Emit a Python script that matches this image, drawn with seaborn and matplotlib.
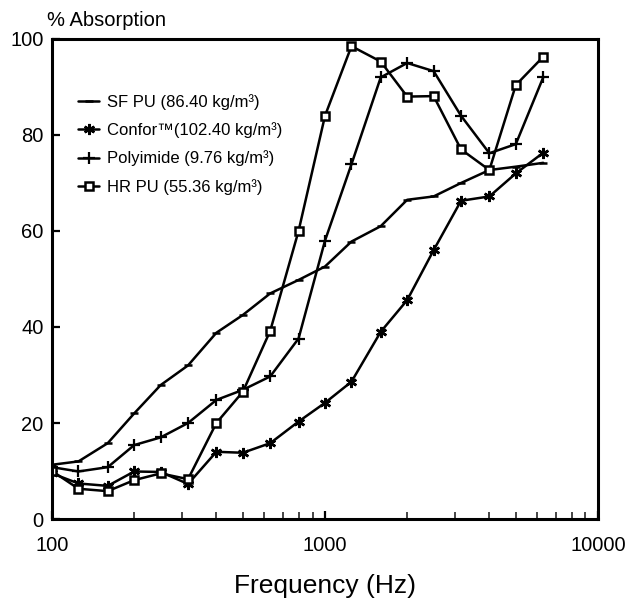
import matplotlib
matplotlib.use("Agg")
import matplotlib.pyplot as plt
import matplotlib.ticker as mticker
import seaborn as sns

# one-third octave centre frequencies (Hz)
freqs = [100, 125, 160, 200, 250, 315, 400, 500, 630, 800, 1000,
         1250, 1600, 2000, 2500, 3150, 4000, 5000, 6300]

sf_pu = [11.3, 12.0, 15.8, 22.0, 27.9, 32.0, 38.8, 42.5, 47.0, 49.8, 52.6,
         57.8, 61.0, 66.5, 67.2, 70.0, 72.7, 73.4, 74.2]
confor = [9.5, 7.4, 6.9, 9.9, 9.8, 7.3, 14.0, 13.8, 15.8, 20.3, 24.2,
          28.6, 39.0, 45.6, 56.0, 66.3, 67.2, 72.0, 76.3]
polyimide = [10.8, 9.9, 10.8, 15.4, 17.0, 20.0, 24.8, 26.9, 29.7, 37.6, 58.0,
             73.9, 92.0, 95.0, 93.3, 84.0, 76.2, 78.1, 92.0]
hr_pu = [10.0, 6.3, 5.8, 8.1, 9.5, 8.3, 20.0, 26.5, 39.2, 60.0, 84.0,
         98.5, 95.3, 88.0, 88.1, 77.0, 72.7, 90.4, 96.3]

labels = ["SF PU (86.40 kg/m\u00b3)",
          "Confor\u2122(102.40 kg/m\u00b3)",
          "Polyimide (9.76 kg/m\u00b3)",
          "HR PU (55.36 kg/m\u00b3)"]

sns.set_style("ticks")
plt.rcParams['font.family'] = ['Liberation Sans', 'DejaVu Sans']
plt.rcParams['text.color'] = 'black'
plt.rcParams['axes.labelcolor'] = 'black'

fig = plt.figure(figsize=(6.29, 5.98), dpi=100)
ax = fig.add_axes([0.0827, 0.1321, 0.868, 0.8027])

series = [
    (sf_pu, dict(marker="_", markersize=6, markeredgewidth=1.8)),
    (confor, dict(marker=(6, 2, 0), markersize=8, markeredgewidth=1.8)),
    (polyimide, dict(marker="+", markersize=9, markeredgewidth=1.6)),
    (hr_pu, dict(marker="s", markersize=6, markerfacecolor="white",
                 markeredgewidth=1.8)),
]
for (vals, style), lab in zip(series, labels):
    sns.lineplot(x=freqs, y=vals, ax=ax, color="black", linewidth=1.8,
                 markeredgecolor="black", label=lab, **style)

ax.set_xscale("log")
ax.set_xlim(100, 10000)
ax.set_ylim(0, 100)
ax.set_xticks([100, 1000, 10000])
ax.xaxis.set_major_formatter(mticker.FixedFormatter(["100", "1000", "10000"]))
ax.xaxis.set_minor_locator(mticker.LogLocator(base=10, subs=range(2, 10)))
ax.xaxis.set_minor_formatter(mticker.NullFormatter())
ax.set_yticks([0, 20, 40, 60, 80, 100])

ax.tick_params(axis="both", which="major", direction="in", length=6,
               width=1.6, labelsize=14.5, color="black", labelcolor="black")
ax.tick_params(axis="x", which="major", pad=12)
ax.tick_params(axis="y", which="major", pad=6)
ax.tick_params(axis="x", which="minor", direction="in", length=5, width=1.2)

for sp in ax.spines.values():
    sp.set_visible(True)
    sp.set_linewidth(2.2)
    sp.set_color("black")

ax.set_xlabel("Frequency (Hz)", fontsize=19, labelpad=14, color="black")
ax.set_ylabel("")
fig.text(47 / 629, 1 - 20 / 598, "% Absorption", fontsize=14.5,
         va="center", ha="left", color="black")

ax.legend(loc="upper left", bbox_to_anchor=(0.035, 0.9), frameon=False,
          fontsize=12, handlelength=1.3, handletextpad=0.45,
          labelspacing=0.75, borderaxespad=0, labelcolor="black")

fig.savefig("out.png", dpi=100)
